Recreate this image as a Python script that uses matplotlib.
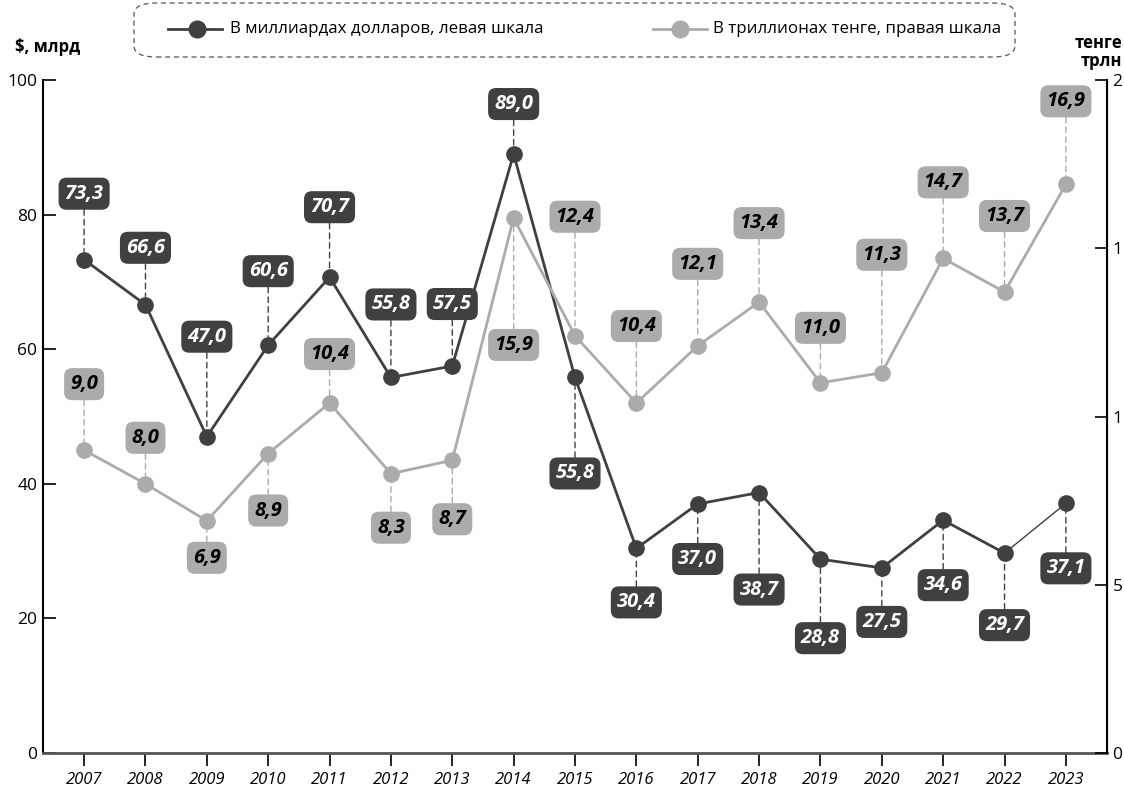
import matplotlib
matplotlib.use("Agg")
import matplotlib.pyplot as plt
from matplotlib.patches import FancyBboxPatch
from matplotlib.lines import Line2D

plt.rcParams['font.family'] = ['Open Sans', 'DejaVu Sans']

years = [2007, 2008, 2009, 2010, 2011, 2012, 2013, 2014, 2015,
         2016, 2017, 2018, 2019, 2020, 2021, 2022, 2023]
usd_bn = [73.3, 66.6, 47.0, 60.6, 70.7, 55.8, 57.5, 89.0, 55.8,
          30.4, 37.0, 38.7, 28.8, 27.5, 34.6, 29.7, 37.1]
kzt_trn = [9.0, 8.0, 6.9, 8.9, 10.4, 8.3, 8.7, 15.9, 12.4,
           10.4, 12.1, 13.4, 11.0, 11.3, 14.7, 13.7, 16.9]

left_ticks = [0, 20, 40, 60, 80, 100]
right_ticks = [0, 5, 10, 15, 20]
right_ticklabels = ['0', '5', '1', '1', '2']

# label offsets in pixels (negative = above the point)
usd_off = [-66, -57, -100, -74, -70, -73, -62, -50, 96,
           54, 55, 97, 79, 54, 65, 72, 65]
kzt_off = [-66, -46, 37, 57, -49, 54, 59, 127, -119,
           -77, -82, -79, -55, -118, -76, -76, -83]

dark = '#404040'
light = '#ababab'

fig = plt.figure(figsize=(11.24, 7.94), dpi=100)
ax = fig.add_axes([43 / 1124, 1 - 753 / 794, (1107 - 43) / 1124, (753 - 80) / 794])
ax2 = ax.twinx()

ax.set_xlim(2006.33, 2023.67)
ax.set_ylim(0, 100)
ax2.set_ylim(0, 20)

# lines
ax.plot(years[:-1], usd_bn[:-1], color=dark, lw=2, zorder=3)
ax.plot(years[-2:], usd_bn[-2:], color=dark, lw=1, zorder=3)
ax.plot(years, usd_bn, 'o', color=dark, ms=11, zorder=4)
ax2.plot(years, kzt_trn, '-o', color=light, lw=2, ms=11, zorder=3)


def fmt(v):
    return f"{v:.1f}".replace('.', ',')


for x, v, off in zip(years, usd_bn, usd_off):
    ax.annotate(fmt(v), (x, v), xytext=(0, -off), textcoords='offset pixels',
                ha='center', va='center', fontsize=14.5, fontweight='bold',
                fontstyle='italic', color='white', zorder=6,
                bbox=dict(boxstyle='round,pad=0.3,rounding_size=0.4',
                          fc=dark, ec='none'),
                arrowprops=dict(arrowstyle='-', color=dark, lw=1,
                                linestyle=(0, (4, 3)), shrinkA=0, shrinkB=6))

for x, v, off in zip(years, kzt_trn, kzt_off):
    ax2.annotate(fmt(v), (x, v), xytext=(0, -off), textcoords='offset pixels',
                 ha='center', va='center', fontsize=14.5, fontweight='bold',
                 fontstyle='italic', color='black', zorder=6,
                 bbox=dict(boxstyle='round,pad=0.3,rounding_size=0.4',
                           fc=light, ec='none'),
                 arrowprops=dict(arrowstyle='-', color=light, lw=1,
                                 linestyle=(0, (4, 3)), shrinkA=0, shrinkB=6))

# axes styling
ax.set_xticks(years)
ax.set_xticklabels([str(y) for y in years], fontstyle='italic', fontsize=12)
ax.tick_params(axis='x', direction='out', length=9, width=1.2, color='black', pad=5)
ax.set_yticks(left_ticks)
ax.tick_params(axis='y', direction='in', length=9, width=1.2, labelsize=12.5, pad=4)
ax2.set_yticks(right_ticks)
ax2.set_yticklabels(right_ticklabels)
ax2.tick_params(axis='y', direction='in', length=9, width=1.2, labelsize=12.5, pad=4)

for a in (ax, ax2):
    a.spines['top'].set_visible(False)
ax.spines['bottom'].set_color('#555555')
ax.spines['bottom'].set_linewidth(2)
ax.spines['left'].set_linewidth(1.5)
ax2.spines['right'].set_linewidth(1.5)
ax2.spines['left'].set_visible(False)
ax2.spines['bottom'].set_visible(False)

fig.text(15 / 1124, 1 - 47 / 794, '$, млрд', fontsize=12, fontweight='bold', va='center')
fig.text(1122 / 1124, 1 - 52 / 794, 'тенге\nтрлн', fontsize=12, fontweight='bold',
         va='center', ha='right', linespacing=1.0)

# legend box
box = FancyBboxPatch((134 / 1124, 1 - 57 / 794), (1015 - 134) / 1124, 54 / 794,
                     boxstyle='round,pad=0,rounding_size=0.02', transform=fig.transFigure,
                     fc='none', ec='#555555', lw=0.9, linestyle=(0, (4, 3)),
                     mutation_aspect=794 / 1124)
fig.patches.append(box)
ly = 1 - 29 / 794
fig.lines.append(Line2D([168 / 1124, 222 / 1124], [ly, ly], transform=fig.transFigure,
                        color=dark, lw=2))
fig.lines.append(Line2D([197 / 1124], [ly], transform=fig.transFigure,
                        color=dark, marker='o', ms=12, lw=0))
fig.text(230 / 1124, ly, 'В миллиардах долларов, левая шкала', fontsize=12.2, va='center')
fig.lines.append(Line2D([653 / 1124, 707 / 1124], [ly, ly], transform=fig.transFigure,
                        color=light, lw=2))
fig.lines.append(Line2D([680 / 1124], [ly], transform=fig.transFigure,
                        color=light, marker='o', ms=12, lw=0))
fig.text(713 / 1124, ly, 'В триллионах тенге, правая шкала', fontsize=12.2, va='center')

fig.savefig('out.png', dpi=100)
